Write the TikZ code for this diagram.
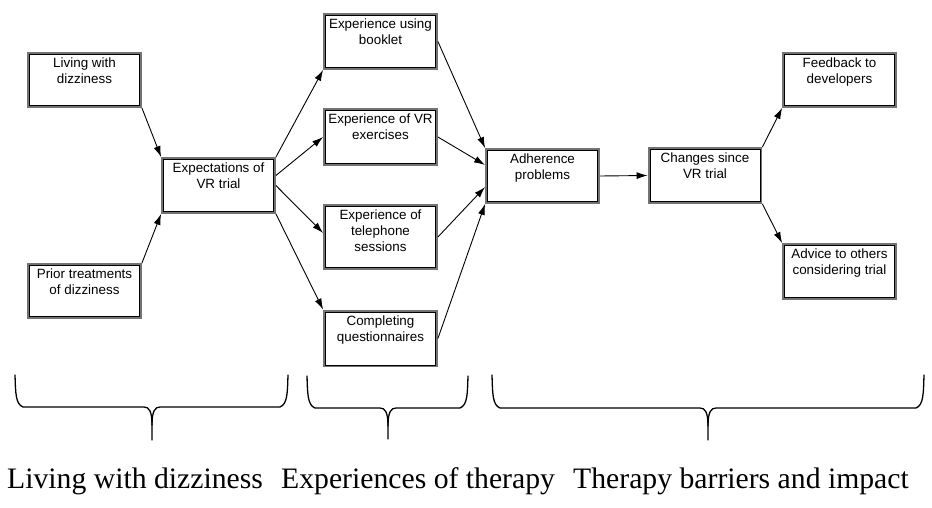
\documentclass[tikz,border=0pt]{standalone}
\usepackage{fontspec}
\setmainfont{Liberation Serif}
\newfontfamily\arialf{Liberation Sans}
\usetikzlibrary{arrows.meta,calc}
\newcommand{\bxt}[2]{\parbox[c][#2][t]{112pt}{\centering\arialf\fontsize{13.4}{16}\selectfont\rule{0pt}{14.2pt}#1}}
\newcommand{\drawcurly}[6]{%
  % #1 left x, #2 right x, #3 tip x, #4 top y, #5 horizontal y, #6 bottom y
  \draw[bracel] (#1,#4) .. controls (#1+0.6,#5-14) and (#1+0.5,#5-3) .. (#1+8,#5)
     -- (#3-8,#5) .. controls (#3-3,#5) and (#3,#5+4) .. (#3,#5+18) -- (#3,#6);
  \draw[bracel] (#2,#4) .. controls (#2-0.6,#5-14) and (#2-0.5,#5-3) .. (#2-8,#5)
     -- (#3+8,#5) .. controls (#3+3,#5) and (#3,#5+4) .. (#3,#5+18);
}
\tikzset{
  box/.style={draw=black!55, line width=2.8pt, inner sep=0pt, outer sep=1.4pt, fill=white},
  inl/.style={draw=black, line width=0.8pt},
  arr/.style={-{Latex[length=11pt,width=7pt]}, line width=0.9pt, black},
  bracel/.style={line width=1.3pt, black, line cap=round},
  grp/.style={anchor=base west, inner sep=0pt, font=\fontsize{29.7}{34}\selectfont}
}
\begin{document}
\begin{tikzpicture}[x=1pt,y=-1pt]
\useasboundingbox (0,0) rectangle (932,508);
% boxes
\node[box] (liv)  at (84.5,80)   {\bxt{Living with\\dizziness}{53pt}};
\node[box] (pri)  at (84.5,291)  {\bxt{Prior treatments\\of dizziness}{53pt}};
\node[box] (exp)  at (218.5,185.5) {\bxt{Expectations of\\VR trial}{54pt}};
\node[box] (book) at (380.5,41.5) {\bxt{Experience using\\booklet}{54pt}};
\node[box] (vrx)  at (380.5,137) {\bxt{Experience of VR\\exercises}{55pt}};
\node[box] (tel)  at (380.5,237) {\bxt{Experience of\\telephone\\sessions}{63pt}};
\node[box] (comp) at (380.5,338.5) {\bxt{Completing\\questionnaires}{55pt}};
\node[box] (adh)  at (542.5,176) {\bxt{Adherence\\problems}{53pt}};
\node[box] (chg)  at (705,175.5) {\bxt{Changes since\\VR trial}{54pt}};
\node[box] (feed) at (839.5,80)  {\bxt{Feedback to\\developers}{53pt}};
\node[box] (adv)  at (839.5,271.5) {\bxt{Advice to others\\considering trial}{54pt}};
\foreach \n in {liv,pri,exp,book,vrx,tel,comp,adh,chg,feed,adv}
  \draw[inl] ([shift={(2.4,2.4)}]\n.north west) rectangle ([shift={(-2.4,-2.4)}]\n.south east);
% connectors
\draw[arr] (liv.south east) -- (exp.north west);
\draw[arr] (pri.north east) -- (exp.south west);
\draw[arr] (exp.north east) -- (book.south west);
\draw[arr] ($(exp.east)+(0,-10)$) -- (vrx.west);
\draw[arr] (exp.east) -- ($(tel.west)+(0,-4)$);
\draw[arr] (exp.south east) -- (comp.north west);
\draw[arr] (book.east) -- (adh.north west);
\draw[arr] (vrx.east) -- ($(adh.west)+(0,-11)$);
\draw[arr] (tel.east) -- ($(adh.west)+(0,11)$);
\draw[arr] (comp.east) -- (adh.south west);
\draw[arr] (adh.east) -- (chg.west);
\draw[arr] (chg.north east) -- (feed.south west);
\draw[arr] (chg.south east) -- (adv.north west);
% braces
\drawcurly{15}{288}{152}{375}{407}{440}
\drawcurly{307}{468}{388}{376}{408}{439}
\drawcurly{492}{924}{708}{375}{408}{440}
% group labels
\node[grp] (g1) at (7,488) {Living with dizziness};
\node[grp] (g2) at (281,488) {Experiences of therapy};
\node[grp] (g3) at (573,488) {Therapy barriers and impact};
\end{tikzpicture}
\end{document}
